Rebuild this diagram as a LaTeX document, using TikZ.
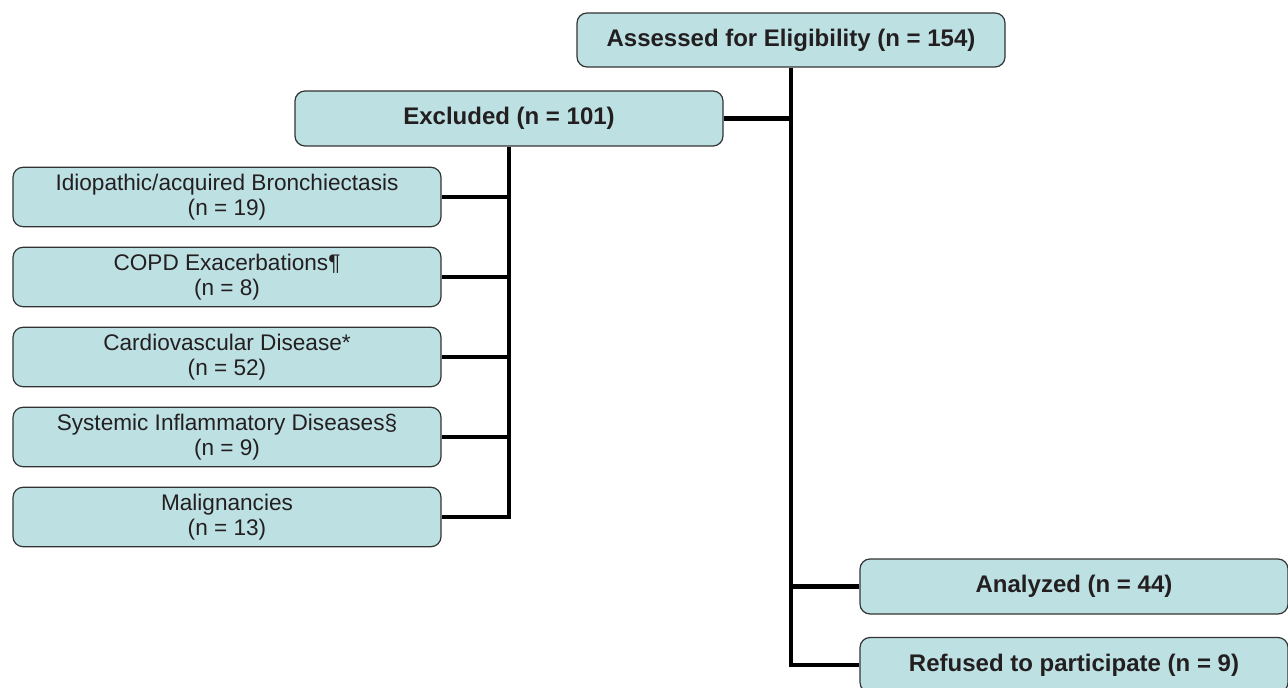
\documentclass[tikz,border=0pt]{standalone}
\usepackage{fontspec}
\setmainfont{Liberation Sans}
\usepackage{tikz}

\definecolor{boxfill}{HTML}{BDE0E3}
\definecolor{boxline}{HTML}{333333}
\definecolor{txt}{HTML}{231F20}

\begin{document}
\begin{tikzpicture}[x=0.5pt, y=-0.5pt, node distance=40pt,
    box/.style = {draw=boxline, line width=0.6pt, fill=boxfill, rounded corners=5pt, text=txt, align=center, minimum width=214pt, minimum height=27.5pt, font=\fontsize{11.3}{12.5}\selectfont},
    head/.style = {box, font=\fontsize{12}{14}\selectfont\bfseries},
    conn/.style = {line width=2.3pt}]

    \useasboundingbox (0,0) rectangle (1288,688);

    % Vozlišča
    \node[head, minimum height=27pt] (assess) at (791,40) {Assessed for Eligibility (n = 154)};
    \node[head] (excl) at (509,118.5) {Excluded (n = 101)};
    \node[box] (e1) at (227,197) {Idiopathic/acquired Bronchiectasis\\(n = 19)};
    \node[box] (e2) [below of=e1] {COPD Exacerbations¶\\(n = 8)};
    \node[box] (e3) [below of=e2] {Cardiovascular Disease*\\(n = 52)};
    \node[box] (e4) [below of=e3] {Systemic Inflammatory Diseases§\\(n = 9)};
    \node[box] (e5) [below of=e4] {Malignancies\\(n = 13)};
    \node[head] (anal) at (1074,586.5) {Analyzed (n = 44)};
    \node[head] (ref) at (1074,665) {Refused to participate (n = 9)};

    % Povezave
    \draw[conn] (assess.south) |- (ref.west);
    \draw[conn] (excl.east) -- (excl.east -| assess.south);
    \draw[conn] (anal.west) -- (anal.west -| assess.south);
    \draw[conn] (excl.south) |- (e5.east);
    \draw[conn] (e1.east) -- (e1.east -| excl.south);
    \draw[conn] (e2.east) -- (e2.east -| excl.south);
    \draw[conn] (e3.east) -- (e3.east -| excl.south);
    \draw[conn] (e4.east) -- (e4.east -| excl.south);

\end{tikzpicture}
\end{document}
